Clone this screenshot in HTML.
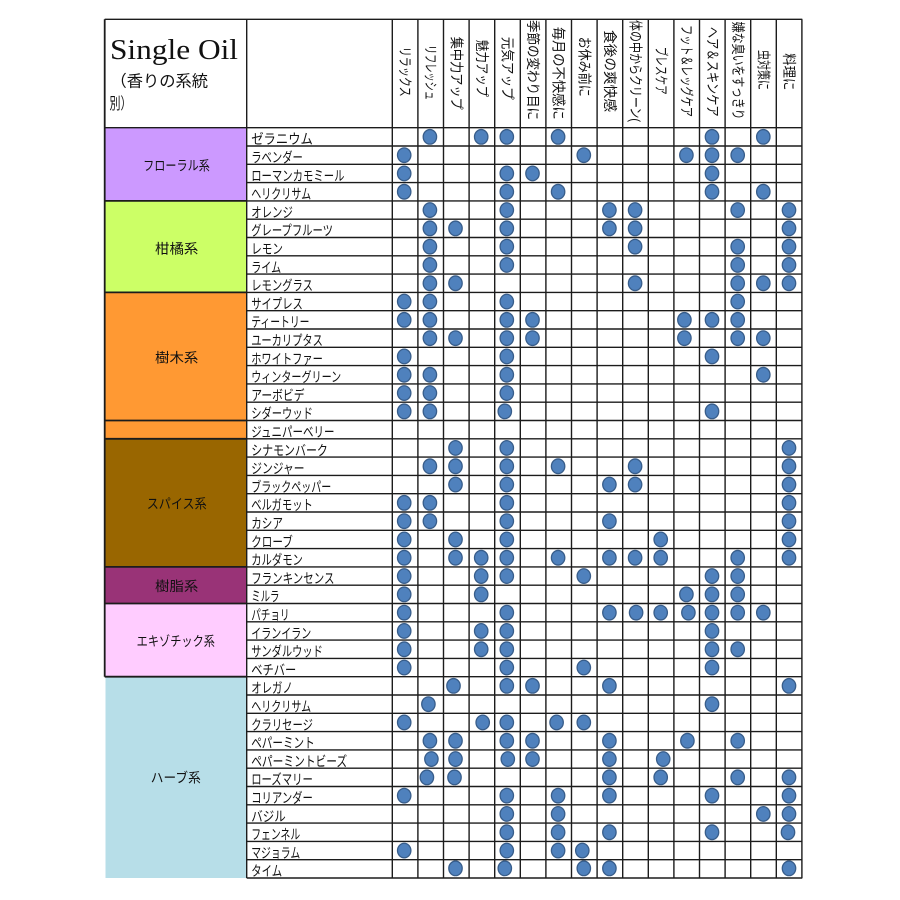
<!DOCTYPE html>
<html>
<head>
<meta charset="utf-8">
<style>
html,body{margin:0;padding:0;background:#fff;}
svg{display:block;}
.t{font-family:"Liberation Sans","Noto Sans CJK JP",sans-serif;fill:#111;}
.n{font-size:14px;}
.h{font-size:14px;}
.c{font-size:13.5px;}
ellipse{fill:#4F81BD;stroke:#385D8A;stroke-width:1.3;}
</style>
</head>
<body>
<svg width="900" height="900" viewBox="0 0 900 900" xmlns="http://www.w3.org/2000/svg">
<rect x="0" y="0" width="900" height="900" fill="#fff"/>
<!-- category fills -->
<rect x="104.7" y="127.7" width="142" height="73.2" fill="#CC99FF"/>
<rect x="104.7" y="200.9" width="142" height="91.5" fill="#CCFF66"/>
<rect x="104.7" y="292.4" width="142" height="128.1" fill="#FF9933"/>
<rect x="104.7" y="420.5" width="142" height="18.3" fill="#FF9933"/>
<rect x="104.7" y="438.8" width="142" height="128.1" fill="#996600"/>
<rect x="104.7" y="566.9" width="142" height="36.6" fill="#993377"/>
<rect x="104.7" y="603.5" width="142" height="73.2" fill="#FFCCFF"/>
<rect x="105.5" y="676.7" width="141.2" height="201.3" fill="#B7DEE8"/>

<!-- grid lines -->
<g stroke="#1c1c1c" stroke-width="1.4" fill="none">
<path d="M104.7 19.3H802.3 M104.7 127.7H802.3
M246.7 146H802.3 M246.7 164.3H802.3 M246.7 182.6H802.3 M246.7 200.9H802.3 M246.7 219.2H802.3 M246.7 237.5H802.3 M246.7 255.8H802.3 M246.7 274.1H802.3 M246.7 292.4H802.3
M246.7 310.7H802.3 M246.7 329H802.3 M246.7 347.3H802.3 M246.7 365.6H802.3 M246.7 383.9H802.3 M246.7 402.2H802.3 M246.7 420.5H802.3 M246.7 438.8H802.3 M246.7 457.1H802.3 M246.7 475.4H802.3
M246.7 493.7H802.3 M246.7 512H802.3 M246.7 530.3H802.3 M246.7 548.6H802.3 M246.7 566.9H802.3 M246.7 585.2H802.3 M246.7 603.5H802.3 M246.7 621.8H802.3 M246.7 640.1H802.3 M246.7 658.4H802.3
M246.7 676.7H802.3 M246.7 695H802.3 M246.7 713.3H802.3 M246.7 731.6H802.3 M246.7 749.9H802.3 M246.7 768.2H802.3 M246.7 786.5H802.3 M246.7 804.8H802.3 M246.7 823.1H802.3 M246.7 841.4H802.3
M246.7 859.7H802.3 M246.7 878H802.3"/>
<path stroke-width="1.8" d="M104.7 200.9H246.7 M104.7 292.4H246.7 M104.7 420.5H246.7 M104.7 438.8H246.7 M104.7 566.9H246.7 M104.7 603.5H246.7 M104.7 676.7H246.7 M104.7 19.3V676.7"/>
<path d="M246.7 19.3V878 M392.3 19.3V878 M417.9 19.3V878 M443.5 19.3V878 M469.1 19.3V878 M494.7 19.3V878 M520.3 19.3V878 M545.9 19.3V878 M571.5 19.3V878 M597.1 19.3V878 M622.7 19.3V878 M648.3 19.3V878 M673.9 19.3V878 M699.5 19.3V878 M725.1 19.3V878 M750.7 19.3V878 M776.3 19.3V878 M801.9 19.3V878"/>
</g>

<!-- title -->
<text x="110" y="59" font-family="Liberation Serif, serif" font-size="28" fill="#111" textLength="128" lengthAdjust="spacingAndGlyphs">Single Oil</text>
<text class="t" x="110.5" y="86.5" font-size="16" fill="#262626" textLength="97.5" lengthAdjust="spacingAndGlyphs">（香りの系統</text>
<text class="t" x="109.5" y="109" font-size="16" fill="#262626" textLength="22" lengthAdjust="spacingAndGlyphs">別）</text>

<!-- header labels (rotated) -->
<g class="t h" dominant-baseline="central">
<text transform="translate(405.1,46.7) rotate(90)" textLength="50" lengthAdjust="spacingAndGlyphs">リラックス</text>
<text transform="translate(430.7,45) rotate(90)" textLength="55" lengthAdjust="spacingAndGlyphs">リフレッシュ</text>
<text transform="translate(456.3,36.7) rotate(90)" textLength="73" lengthAdjust="spacingAndGlyphs">集中力アップ</text>
<text transform="translate(481.9,40) rotate(90)" textLength="57" lengthAdjust="spacingAndGlyphs">魅力アップ</text>
<text transform="translate(507.5,36.7) rotate(90)" textLength="63" lengthAdjust="spacingAndGlyphs">元気アップ</text>
<text transform="translate(533.1,20) rotate(90)" textLength="100" lengthAdjust="spacingAndGlyphs">季節の変わり目に</text>
<text transform="translate(558.7,26.7) rotate(90)" textLength="93" lengthAdjust="spacingAndGlyphs">毎月の不快感に</text>
<text transform="translate(584.3,36.7) rotate(90)" textLength="60" lengthAdjust="spacingAndGlyphs">お休み前に</text>
<text transform="translate(609.9,30) rotate(90)" textLength="82" lengthAdjust="spacingAndGlyphs">食後の爽快感</text>
<text transform="translate(635.5,20) rotate(90)" textLength="102" lengthAdjust="spacingAndGlyphs">体の中からクリーン(</text>
<text transform="translate(661.1,46.7) rotate(90)" textLength="48" lengthAdjust="spacingAndGlyphs">ブレスケア</text>
<text transform="translate(686.7,25) rotate(90)" textLength="92" lengthAdjust="spacingAndGlyphs">フット＆レッグケア</text>
<text transform="translate(712.3,26.7) rotate(90)" textLength="90" lengthAdjust="spacingAndGlyphs">ヘア＆スキンケア</text>
<text transform="translate(737.9,21.7) rotate(90)" textLength="98" lengthAdjust="spacingAndGlyphs">嫌な臭いをすっきり</text>
<text transform="translate(763.5,50) rotate(90)" textLength="40" lengthAdjust="spacingAndGlyphs">虫対策に</text>
<text transform="translate(789.1,53.3) rotate(90)" textLength="37" lengthAdjust="spacingAndGlyphs">料理に</text>
</g>

<!-- category labels -->
<g class="t c" text-anchor="middle" dominant-baseline="central">
<text x="176.5" y="165.8" textLength="66.7" lengthAdjust="spacingAndGlyphs">フローラル系</text>
<text x="176.7" y="249" textLength="43.3" lengthAdjust="spacingAndGlyphs">柑橘系</text>
<text x="176.7" y="358" textLength="43.3" lengthAdjust="spacingAndGlyphs">樹木系</text>
<text x="176.7" y="504" textLength="60" lengthAdjust="spacingAndGlyphs">スパイス系</text>
<text x="176.7" y="586.5" textLength="43.3" lengthAdjust="spacingAndGlyphs">樹脂系</text>
<text x="175.8" y="641.5" textLength="78.3" lengthAdjust="spacingAndGlyphs">エキゾチック系</text>
<text x="175.8" y="778" textLength="50" lengthAdjust="spacingAndGlyphs">ハーブ系</text>
</g>

<!-- names -->
<g class="t n" transform="translate(0,0.5)">
<text x="251.2" y="143.7" textLength="61.7" lengthAdjust="spacingAndGlyphs">ゼラニウム</text>
<text x="251.2" y="162" textLength="51.7" lengthAdjust="spacingAndGlyphs">ラベンダー</text>
<text x="251.2" y="180.3" textLength="93.3" lengthAdjust="spacingAndGlyphs">ローマンカモミール</text>
<text x="251.2" y="198.6" textLength="60" lengthAdjust="spacingAndGlyphs">ヘリクリサム</text>
<text x="251.2" y="216.9" textLength="41.7" lengthAdjust="spacingAndGlyphs">オレンジ</text>
<text x="251.2" y="235.2" textLength="81.7" lengthAdjust="spacingAndGlyphs">グレープフルーツ</text>
<text x="251.2" y="253.5" textLength="31.7" lengthAdjust="spacingAndGlyphs">レモン</text>
<text x="251.2" y="271.8" textLength="30" lengthAdjust="spacingAndGlyphs">ライム</text>
<text x="251.2" y="290.1" textLength="61.7" lengthAdjust="spacingAndGlyphs">レモングラス</text>
<text x="251.2" y="308.4" textLength="51.7" lengthAdjust="spacingAndGlyphs">サイプレス</text>
<text x="251.2" y="326.7" textLength="58.3" lengthAdjust="spacingAndGlyphs">ティートリー</text>
<text x="251.2" y="345" textLength="71.7" lengthAdjust="spacingAndGlyphs">ユーカリプタス</text>
<text x="251.2" y="363.3" textLength="71.7" lengthAdjust="spacingAndGlyphs">ホワイトファー</text>
<text x="251.2" y="381.6" textLength="90" lengthAdjust="spacingAndGlyphs">ウィンターグリーン</text>
<text x="251.2" y="399.9" textLength="53.3" lengthAdjust="spacingAndGlyphs">アーボビデ</text>
<text x="251.2" y="418.2" textLength="61.7" lengthAdjust="spacingAndGlyphs">シダーウッド</text>
<text x="251.2" y="436.5" textLength="83.3" lengthAdjust="spacingAndGlyphs">ジュニパーベリー</text>
<text x="251.2" y="454.8" textLength="76.7" lengthAdjust="spacingAndGlyphs">シナモンバーク</text>
<text x="251.2" y="473.1" textLength="53.3" lengthAdjust="spacingAndGlyphs">ジンジャー</text>
<text x="251.2" y="491.4" textLength="80" lengthAdjust="spacingAndGlyphs">ブラックペッパー</text>
<text x="251.2" y="509.7" textLength="61.7" lengthAdjust="spacingAndGlyphs">ベルガモット</text>
<text x="251.2" y="528" textLength="31.7" lengthAdjust="spacingAndGlyphs">カシア</text>
<text x="251.2" y="546.3" textLength="41.7" lengthAdjust="spacingAndGlyphs">クローブ</text>
<text x="251.2" y="564.6" textLength="51.7" lengthAdjust="spacingAndGlyphs">カルダモン</text>
<text x="251.2" y="582.9" textLength="83.3" lengthAdjust="spacingAndGlyphs">フランキンセンス</text>
<text x="251.2" y="601.2" textLength="28.3" lengthAdjust="spacingAndGlyphs">ミルラ</text>
<text x="251.2" y="619.5" textLength="38.3" lengthAdjust="spacingAndGlyphs">パチョリ</text>
<text x="251.2" y="637.8" textLength="60" lengthAdjust="spacingAndGlyphs">イランイラン</text>
<text x="251.2" y="656.1" textLength="71.7" lengthAdjust="spacingAndGlyphs">サンダルウッド</text>
<text x="251.2" y="674.4" textLength="45" lengthAdjust="spacingAndGlyphs">ベチバー</text>
<text x="251.2" y="692.7" textLength="41.7" lengthAdjust="spacingAndGlyphs">オレガノ</text>
<text x="251.2" y="711" textLength="60" lengthAdjust="spacingAndGlyphs">ヘリクリサム</text>
<text x="251.2" y="729.3" textLength="61.7" lengthAdjust="spacingAndGlyphs">クラリセージ</text>
<text x="251.2" y="747.6" textLength="63.5" lengthAdjust="spacingAndGlyphs">ペパーミント</text>
<text x="251.2" y="765.9" textLength="96" lengthAdjust="spacingAndGlyphs">ペパーミントビーズ</text>
<text x="251.2" y="784.2" textLength="61.7" lengthAdjust="spacingAndGlyphs">ローズマリー</text>
<text x="251.2" y="802.5" textLength="61.7" lengthAdjust="spacingAndGlyphs">コリアンダー</text>
<text x="251.2" y="820.8" textLength="34.5" lengthAdjust="spacingAndGlyphs">バジル</text>
<text x="251.2" y="839.1" textLength="49" lengthAdjust="spacingAndGlyphs">フェンネル</text>
<text x="251.2" y="857.4" textLength="49" lengthAdjust="spacingAndGlyphs">マジョラム</text>
<text x="251.2" y="875.7" textLength="31" lengthAdjust="spacingAndGlyphs">タイム</text>
</g>

<!-- dots -->
<g>
<g transform="translate(0,136.85)"><ellipse cx="429.9" rx="6.7" ry="7.3"/><ellipse cx="481.2" rx="6.7" ry="7.3"/><ellipse cx="506.8" rx="6.7" ry="7.3"/><ellipse cx="558.1" rx="6.7" ry="7.3"/><ellipse cx="712" rx="6.7" ry="7.3"/><ellipse cx="763.3" rx="6.7" ry="7.3"/></g>
<g transform="translate(0,155.15)"><ellipse cx="404.2" rx="6.7" ry="7.3"/><ellipse cx="583.8" rx="6.7" ry="7.3"/><ellipse cx="686.4" rx="6.7" ry="7.3"/><ellipse cx="712" rx="6.7" ry="7.3"/><ellipse cx="737.7" rx="6.7" ry="7.3"/></g>
<g transform="translate(0,173.45)"><ellipse cx="404.2" rx="6.7" ry="7.3"/><ellipse cx="506.8" rx="6.7" ry="7.3"/><ellipse cx="532.5" rx="6.7" ry="7.3"/><ellipse cx="712" rx="6.7" ry="7.3"/></g>
<g transform="translate(0,191.75)"><ellipse cx="404.2" rx="6.7" ry="7.3"/><ellipse cx="506.8" rx="6.7" ry="7.3"/><ellipse cx="558.1" rx="6.7" ry="7.3"/><ellipse cx="712" rx="6.7" ry="7.3"/><ellipse cx="763.3" rx="6.7" ry="7.3"/></g>
<g transform="translate(0,210.05)"><ellipse cx="429.9" rx="6.7" ry="7.3"/><ellipse cx="506.8" rx="6.7" ry="7.3"/><ellipse cx="609.4" rx="6.7" ry="7.3"/><ellipse cx="635.1" rx="6.7" ry="7.3"/><ellipse cx="737.7" rx="6.7" ry="7.3"/><ellipse cx="789" rx="6.7" ry="7.3"/></g>
<g transform="translate(0,228.35)"><ellipse cx="429.9" rx="6.7" ry="7.3"/><ellipse cx="455.5" rx="6.7" ry="7.3"/><ellipse cx="506.8" rx="6.7" ry="7.3"/><ellipse cx="609.4" rx="6.7" ry="7.3"/><ellipse cx="635.1" rx="6.7" ry="7.3"/><ellipse cx="789" rx="6.7" ry="7.3"/></g>
<g transform="translate(0,246.65)"><ellipse cx="429.9" rx="6.7" ry="7.3"/><ellipse cx="506.8" rx="6.7" ry="7.3"/><ellipse cx="635.1" rx="6.7" ry="7.3"/><ellipse cx="737.7" rx="6.7" ry="7.3"/><ellipse cx="789" rx="6.7" ry="7.3"/></g>
<g transform="translate(0,264.95)"><ellipse cx="429.9" rx="6.7" ry="7.3"/><ellipse cx="506.8" rx="6.7" ry="7.3"/><ellipse cx="737.7" rx="6.7" ry="7.3"/><ellipse cx="789" rx="6.7" ry="7.3"/></g>
<g transform="translate(0,283.25)"><ellipse cx="429.9" rx="6.7" ry="7.3"/><ellipse cx="455.5" rx="6.7" ry="7.3"/><ellipse cx="635.1" rx="6.7" ry="7.3"/><ellipse cx="737.7" rx="6.7" ry="7.3"/><ellipse cx="763.3" rx="6.7" ry="7.3"/><ellipse cx="789" rx="6.7" ry="7.3"/></g>
<g transform="translate(0,301.55)"><ellipse cx="404.2" rx="6.7" ry="7.3"/><ellipse cx="429.9" rx="6.7" ry="7.3"/><ellipse cx="506.8" rx="6.7" ry="7.3"/><ellipse cx="737.7" rx="6.7" ry="7.3"/></g>
<g transform="translate(0,319.85)"><ellipse cx="404.2" rx="6.7" ry="7.3"/><ellipse cx="429.9" rx="6.7" ry="7.3"/><ellipse cx="506.8" rx="6.7" ry="7.3"/><ellipse cx="532.5" rx="6.7" ry="7.3"/><ellipse cx="684.4" rx="6.7" ry="7.3"/><ellipse cx="712" rx="6.7" ry="7.3"/><ellipse cx="737.7" rx="6.7" ry="7.3"/></g>
<g transform="translate(0,338.15)"><ellipse cx="429.9" rx="6.7" ry="7.3"/><ellipse cx="455.5" rx="6.7" ry="7.3"/><ellipse cx="506.8" rx="6.7" ry="7.3"/><ellipse cx="532.5" rx="6.7" ry="7.3"/><ellipse cx="684.4" rx="6.7" ry="7.3"/><ellipse cx="737.7" rx="6.7" ry="7.3"/><ellipse cx="763.3" rx="6.7" ry="7.3"/></g>
<g transform="translate(0,356.45)"><ellipse cx="404.2" rx="6.7" ry="7.3"/><ellipse cx="506.8" rx="6.7" ry="7.3"/><ellipse cx="712" rx="6.7" ry="7.3"/></g>
<g transform="translate(0,374.75)"><ellipse cx="404.2" rx="6.7" ry="7.3"/><ellipse cx="429.9" rx="6.7" ry="7.3"/><ellipse cx="506.8" rx="6.7" ry="7.3"/><ellipse cx="763.3" rx="6.7" ry="7.3"/></g>
<g transform="translate(0,393.05)"><ellipse cx="404.2" rx="6.7" ry="7.3"/><ellipse cx="429.9" rx="6.7" ry="7.3"/><ellipse cx="506.8" rx="6.7" ry="7.3"/></g>
<g transform="translate(0,411.35)"><ellipse cx="404.2" rx="6.7" ry="7.3"/><ellipse cx="429.9" rx="6.7" ry="7.3"/><ellipse cx="504.8" rx="6.7" ry="7.3"/><ellipse cx="712" rx="6.7" ry="7.3"/></g>
<g transform="translate(0,447.95)"><ellipse cx="455.5" rx="6.7" ry="7.3"/><ellipse cx="506.8" rx="6.7" ry="7.3"/><ellipse cx="789" rx="6.7" ry="7.3"/></g>
<g transform="translate(0,466.25)"><ellipse cx="429.9" rx="6.7" ry="7.3"/><ellipse cx="455.5" rx="6.7" ry="7.3"/><ellipse cx="506.8" rx="6.7" ry="7.3"/><ellipse cx="558.1" rx="6.7" ry="7.3"/><ellipse cx="635.1" rx="6.7" ry="7.3"/><ellipse cx="789" rx="6.7" ry="7.3"/></g>
<g transform="translate(0,484.55)"><ellipse cx="455.5" rx="6.7" ry="7.3"/><ellipse cx="506.8" rx="6.7" ry="7.3"/><ellipse cx="609.4" rx="6.7" ry="7.3"/><ellipse cx="635.1" rx="6.7" ry="7.3"/><ellipse cx="789" rx="6.7" ry="7.3"/></g>
<g transform="translate(0,502.85)"><ellipse cx="404.2" rx="6.7" ry="7.3"/><ellipse cx="429.9" rx="6.7" ry="7.3"/><ellipse cx="506.8" rx="6.7" ry="7.3"/><ellipse cx="789" rx="6.7" ry="7.3"/></g>
<g transform="translate(0,521.15)"><ellipse cx="404.2" rx="6.7" ry="7.3"/><ellipse cx="429.9" rx="6.7" ry="7.3"/><ellipse cx="506.8" rx="6.7" ry="7.3"/><ellipse cx="609.4" rx="6.7" ry="7.3"/><ellipse cx="789" rx="6.7" ry="7.3"/></g>
<g transform="translate(0,539.45)"><ellipse cx="404.2" rx="6.7" ry="7.3"/><ellipse cx="455.5" rx="6.7" ry="7.3"/><ellipse cx="506.8" rx="6.7" ry="7.3"/><ellipse cx="660.7" rx="6.7" ry="7.3"/><ellipse cx="789" rx="6.7" ry="7.3"/></g>
<g transform="translate(0,557.75)"><ellipse cx="404.2" rx="6.7" ry="7.3"/><ellipse cx="455.5" rx="6.7" ry="7.3"/><ellipse cx="481.2" rx="6.7" ry="7.3"/><ellipse cx="506.8" rx="6.7" ry="7.3"/><ellipse cx="558.1" rx="6.7" ry="7.3"/><ellipse cx="609.4" rx="6.7" ry="7.3"/><ellipse cx="635.1" rx="6.7" ry="7.3"/><ellipse cx="660.7" rx="6.7" ry="7.3"/><ellipse cx="737.7" rx="6.7" ry="7.3"/><ellipse cx="789" rx="6.7" ry="7.3"/></g>
<g transform="translate(0,576.05)"><ellipse cx="404.2" rx="6.7" ry="7.3"/><ellipse cx="481.2" rx="6.7" ry="7.3"/><ellipse cx="506.8" rx="6.7" ry="7.3"/><ellipse cx="583.8" rx="6.7" ry="7.3"/><ellipse cx="712" rx="6.7" ry="7.3"/><ellipse cx="737.7" rx="6.7" ry="7.3"/></g>
<g transform="translate(0,594.35)"><ellipse cx="404.2" rx="6.7" ry="7.3"/><ellipse cx="481.2" rx="6.7" ry="7.3"/><ellipse cx="686.4" rx="6.7" ry="7.3"/><ellipse cx="712" rx="6.7" ry="7.3"/><ellipse cx="737.7" rx="6.7" ry="7.3"/></g>
<g transform="translate(0,612.65)"><ellipse cx="404.2" rx="6.7" ry="7.3"/><ellipse cx="506.8" rx="6.7" ry="7.3"/><ellipse cx="609.4" rx="6.7" ry="7.3"/><ellipse cx="636.1" rx="6.7" ry="7.3"/><ellipse cx="660.7" rx="6.7" ry="7.3"/><ellipse cx="688.4" rx="6.7" ry="7.3"/><ellipse cx="712" rx="6.7" ry="7.3"/><ellipse cx="737.7" rx="6.7" ry="7.3"/><ellipse cx="763.3" rx="6.7" ry="7.3"/></g>
<g transform="translate(0,630.95)"><ellipse cx="404.2" rx="6.7" ry="7.3"/><ellipse cx="481.2" rx="6.7" ry="7.3"/><ellipse cx="506.8" rx="6.7" ry="7.3"/><ellipse cx="712" rx="6.7" ry="7.3"/></g>
<g transform="translate(0,649.25)"><ellipse cx="404.2" rx="6.7" ry="7.3"/><ellipse cx="481.2" rx="6.7" ry="7.3"/><ellipse cx="506.8" rx="6.7" ry="7.3"/><ellipse cx="712" rx="6.7" ry="7.3"/><ellipse cx="737.7" rx="6.7" ry="7.3"/></g>
<g transform="translate(0,667.55)"><ellipse cx="404.2" rx="6.7" ry="7.3"/><ellipse cx="506.8" rx="6.7" ry="7.3"/><ellipse cx="583.8" rx="6.7" ry="7.3"/><ellipse cx="712" rx="6.7" ry="7.3"/></g>
<g transform="translate(0,685.85)"><ellipse cx="453.5" rx="6.7" ry="7.3"/><ellipse cx="506.8" rx="6.7" ry="7.3"/><ellipse cx="532.5" rx="6.7" ry="7.3"/><ellipse cx="609.4" rx="6.7" ry="7.3"/><ellipse cx="789" rx="6.7" ry="7.3"/></g>
<g transform="translate(0,704.15)"><ellipse cx="428.4" rx="6.7" ry="7.3"/><ellipse cx="712" rx="6.7" ry="7.3"/></g>
<g transform="translate(0,722.45)"><ellipse cx="404.2" rx="6.7" ry="7.3"/><ellipse cx="482.7" rx="6.7" ry="7.3"/><ellipse cx="506.8" rx="6.7" ry="7.3"/><ellipse cx="556.6" rx="6.7" ry="7.3"/><ellipse cx="583.8" rx="6.7" ry="7.3"/></g>
<g transform="translate(0,740.75)"><ellipse cx="429.9" rx="6.7" ry="7.3"/><ellipse cx="455.5" rx="6.7" ry="7.3"/><ellipse cx="506.8" rx="6.7" ry="7.3"/><ellipse cx="532.5" rx="6.7" ry="7.3"/><ellipse cx="609.4" rx="6.7" ry="7.3"/><ellipse cx="687.4" rx="6.7" ry="7.3"/><ellipse cx="737.7" rx="6.7" ry="7.3"/></g>
<g transform="translate(0,759.05)"><ellipse cx="431.4" rx="6.7" ry="7.3"/><ellipse cx="455.5" rx="6.7" ry="7.3"/><ellipse cx="507.8" rx="6.7" ry="7.3"/><ellipse cx="532.5" rx="6.7" ry="7.3"/><ellipse cx="609.4" rx="6.7" ry="7.3"/><ellipse cx="663.2" rx="6.7" ry="7.3"/></g>
<g transform="translate(0,777.35)"><ellipse cx="426.9" rx="6.7" ry="7.3"/><ellipse cx="454.5" rx="6.7" ry="7.3"/><ellipse cx="609.4" rx="6.7" ry="7.3"/><ellipse cx="660.7" rx="6.7" ry="7.3"/><ellipse cx="737.7" rx="6.7" ry="7.3"/><ellipse cx="789" rx="6.7" ry="7.3"/></g>
<g transform="translate(0,795.65)"><ellipse cx="404.2" rx="6.7" ry="7.3"/><ellipse cx="506.8" rx="6.7" ry="7.3"/><ellipse cx="558.1" rx="6.7" ry="7.3"/><ellipse cx="609.4" rx="6.7" ry="7.3"/><ellipse cx="712" rx="6.7" ry="7.3"/><ellipse cx="789" rx="6.7" ry="7.3"/></g>
<g transform="translate(0,813.95)"><ellipse cx="506.8" rx="6.7" ry="7.3"/><ellipse cx="558.1" rx="6.7" ry="7.3"/><ellipse cx="763.3" rx="6.7" ry="7.3"/><ellipse cx="789" rx="6.7" ry="7.3"/></g>
<g transform="translate(0,832.25)"><ellipse cx="506.8" rx="6.7" ry="7.3"/><ellipse cx="558.1" rx="6.7" ry="7.3"/><ellipse cx="609.4" rx="6.7" ry="7.3"/><ellipse cx="712" rx="6.7" ry="7.3"/><ellipse cx="788" rx="6.7" ry="7.3"/></g>
<g transform="translate(0,850.55)"><ellipse cx="404.2" rx="6.7" ry="7.3"/><ellipse cx="506.8" rx="6.7" ry="7.3"/><ellipse cx="558.1" rx="6.7" ry="7.3"/><ellipse cx="582.3" rx="6.7" ry="7.3"/></g>
<g transform="translate(0,868.35)"><ellipse cx="455.5" rx="6.7" ry="7.3"/><ellipse cx="504.8" rx="6.7" ry="7.3"/><ellipse cx="583.8" rx="6.7" ry="7.3"/><ellipse cx="609.4" rx="6.7" ry="7.3"/><ellipse cx="789" rx="6.7" ry="7.3"/></g>
</g>
</svg>
</body>
</html>
